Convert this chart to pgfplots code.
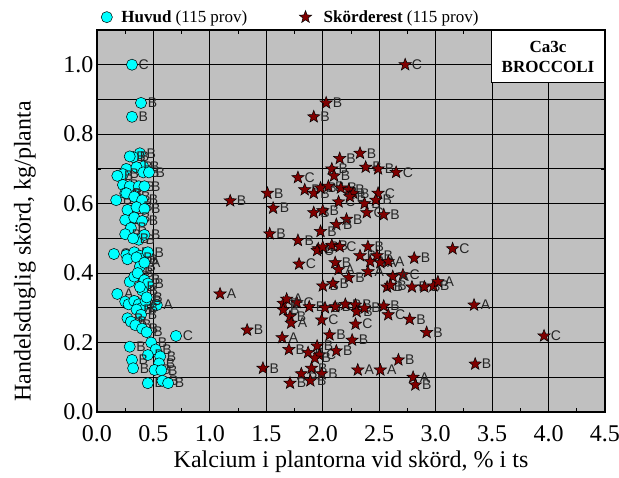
\documentclass[border=0pt]{standalone}
\usepackage{fontspec}
\setmainfont{Liberation Serif}
\newfontfamily\arial{Liberation Sans}
\usepackage{pgfplots}
\pgfplotsset{compat=1.18}
\usepackage{pgfplotstable}
\definecolor{bggray}{RGB}{192,192,192}
\definecolor{starred}{RGB}{128,0,0}
\definecolor{cyanfill}{RGB}{0,255,255}

\pgfdeclareplotmark{fstar}{%
  \pgfpathmoveto{\pgfpointpolar{90}{1*\pgfplotmarksize}}%
  \pgfpathlineto{\pgfpointpolar{126}{0.42*\pgfplotmarksize}}%
  \pgfpathlineto{\pgfpointpolar{162}{1*\pgfplotmarksize}}%
  \pgfpathlineto{\pgfpointpolar{198}{0.42*\pgfplotmarksize}}%
  \pgfpathlineto{\pgfpointpolar{234}{1*\pgfplotmarksize}}%
  \pgfpathlineto{\pgfpointpolar{270}{0.42*\pgfplotmarksize}}%
  \pgfpathlineto{\pgfpointpolar{306}{1*\pgfplotmarksize}}%
  \pgfpathlineto{\pgfpointpolar{342}{0.42*\pgfplotmarksize}}%
  \pgfpathlineto{\pgfpointpolar{18}{1*\pgfplotmarksize}}%
  \pgfpathlineto{\pgfpointpolar{54}{0.42*\pgfplotmarksize}}%
  \pgfpathclose
  \pgfusepathqfillstroke
}

\pgfplotstableread{
x y l
0.31 1.00 C
0.39 0.89 B
0.31 0.85 B
0.38 0.745 B
0.32 0.734 B
0.29 0.736 B
0.41 0.707 B
0.26 0.70 B
0.35 0.705 B
0.41 0.69 B
0.46 0.69 B
0.23 0.685 B
0.18 0.68 B
0.23 0.654 B
0.29 0.65 B
0.37 0.65 B
0.42 0.65 B
0.25 0.63 B
0.17 0.61 B
0.26 0.63 B
0.33 0.62 B
0.40 0.61 B
0.27 0.582 B
0.35 0.59 B
0.42 0.585 B
0.25 0.553 B
0.33 0.56 B
0.40 0.55 B
0.30 0.53 B
0.25 0.512 B
0.37 0.496 B
0.42 0.51 B
0.32 0.50 B
0.15 0.455 C
0.26 0.452 B
0.33 0.46 B
0.38 0.45 A
0.40 0.44 B
0.45 0.46 B
0.27 0.44 B
0.35 0.445 B
0.38 0.419 B
0.42 0.43 A
0.29 0.375 B
0.33 0.39 B
0.36 0.40 B
0.42 0.38 B
0.45 0.37 B
0.40 0.35 B
0.38 0.36 B
0.18 0.34 A
0.25 0.318 B
0.28 0.31 B
0.53 0.308 A
0.33 0.32 B
0.37 0.31 B
0.40 0.30 B
0.43 0.32 B
0.44 0.33 B
0.35 0.295 B
0.39 0.28 B
0.27 0.27 B
0.30 0.26 B
0.34 0.25 B
0.40 0.24 B
0.44 0.23 B
0.70 0.219 C
0.48 0.20 B
0.29 0.188 B
0.52 0.18 B
0.45 0.164 B
0.56 0.16 B
0.31 0.15 B
0.55 0.14 B
0.32 0.126 B
0.51 0.121 B
0.57 0.12 B
0.45 0.083 B
0.58 0.09 B
0.63 0.083 B
}\huvud

\pgfplotstableread{
x y l
2.73 1.00 C
2.03 0.89 B
1.92 0.85 B
2.33 0.745 B
2.15 0.73 B
2.38 0.705 B
2.49 0.70 B
2.65 0.69 C
2.08 0.70 B
2.10 0.68 B
1.78 0.675 C
1.51 0.63 B
1.84 0.64 B
1.92 0.63 B
1.98 0.645 B
2.05 0.65 B
2.16 0.645 B
2.23 0.64 B
2.27 0.63 B
2.49 0.63 C
2.14 0.605 C
2.24 0.62 B
2.37 0.60 B
2.47 0.61 B
1.56 0.587 B
1.18 0.608 B
1.92 0.574 B
2.00 0.58 B
2.39 0.574 C
2.54 0.568 B
2.21 0.555 B
2.12 0.54 B
1.53 0.513 B
1.98 0.52 B
1.78 0.494 B
1.96 0.47 B
1.95 0.465 C
2.00 0.475 B
2.08 0.48 B
2.15 0.476 C
2.40 0.476 B
2.33 0.45 B
2.48 0.45 B
2.81 0.443 B
3.15 0.47 C
1.79 0.426 C
2.11 0.43 B
2.42 0.433 A
2.51 0.43 A
2.58 0.433 A
2.14 0.41 A
2.40 0.404 A
2.71 0.395 C
2.62 0.39 A
2.23 0.387 B
2.00 0.363 B
2.09 0.37 B
2.57 0.36 B
2.60 0.365 B
2.79 0.36 B
2.90 0.36 B
2.98 0.363 B
3.02 0.375 A
1.09 0.34 A
1.65 0.313 B
1.77 0.315 C
1.65 0.294 B
1.68 0.325 A
1.88 0.303 B
2.02 0.30 B
2.11 0.303 B
2.20 0.31 B
2.29 0.308 B
2.30 0.289 B
2.37 0.299 B
2.54 0.305 B
2.58 0.28 C
2.77 0.267 B
3.34 0.308 A
1.71 0.275 B
1.72 0.256 A
1.99 0.265 C
2.29 0.253 C
2.92 0.229 B
3.96 0.219 C
2.06 0.222 B
2.26 0.207 B
1.64 0.214 A
1.33 0.236 B
1.70 0.18 B
1.87 0.171 B
1.95 0.19 B
1.97 0.164 C
2.12 0.176 B
1.93 0.155 B
1.47 0.126 B
1.81 0.11 B
1.90 0.126 B
1.99 0.11 B
1.89 0.09 B
1.71 0.083 B
2.31 0.121 A
2.51 0.121 A
2.67 0.15 B
2.80 0.10 A
2.82 0.078 B
3.35 0.138 B
}\skord

\begin{document}
\begin{tikzpicture}
\path[use as bounding box] (-97pt,-65pt) rectangle (522pt,412pt);
\begin{axis}[
  at={(0pt,0pt)}, anchor=south west,
  scale only axis, width=508pt, height=382pt,
  xmin=0, xmax=4.5, ymin=0, ymax=1.1,
  axis background/.style={fill=bggray},
  xtick={0,0.5,...,4.5}, minor xtick={0.25,0.75,...,4.25},
  ytick={0,0.2,...,1.0}, minor ytick={0.1,0.3,...,1.1},
  xmajorgrids=true, ymajorgrids=true, yminorgrids=true,
  major grid style={black, line width=0.9pt},
  minor grid style={black, line width=0.9pt},
  tick align=inside, major tick length=6pt, minor tick length=4pt,
  tick style={black, line width=0.8pt},
  axis line style={black, line width=1.6pt},
  /pgf/number format/fixed, /pgf/number format/fixed zerofill,
  /pgf/number format/precision=1, /pgf/number format/assume math mode=true,
  tick label style={font=\fontsize{24}{24}\selectfont},
  xticklabel style={yshift=-10pt},
  label style={font=\fontsize{24}{24}\selectfont},
  xlabel={Kalcium i plantorna vid skörd, \% i ts},
  ylabel={Handelsduglig skörd, kg/planta},
  xlabel style={at={(axis description cs:0.5,0)}, anchor=center, yshift=-50pt},
  ylabel style={at={(axis description cs:0,0.42)}, anchor=center, yshift=72pt},
  legend style={draw=none, fill=none, at={(0,1)}, anchor=south west, xshift=4pt, yshift=4pt,
    legend columns=2, font=\fontsize{17}{17}\selectfont, inner sep=0pt,
    /tikz/every even column/.append style={column sep=50pt}},
  legend cell align=left,
  nodes near coords,
  point meta=explicit symbolic,
  every node near coord/.append style={anchor=west, inner sep=0pt, xshift=6.5pt,
     font=\arial\fontsize{14}{14}\selectfont, text=black!85},
]
\addplot[only marks, mark=*, mark size=5.6pt,
  mark options={fill=cyanfill, draw=black, line width=0.5pt}]
  table[x=x, y=y, meta=l]{\huvud};
\addlegendentry{\hspace*{7pt}\textbf{Huvud} (115 prov)}
\addplot[only marks, mark=fstar, mark size=6.5pt,
  mark options={fill=starred, draw=black, line width=0.5pt}]
  table[x=x, y=y, meta=l]{\skord};
\addlegendentry{\hspace*{10pt}\textbf{Skörderest} (115 prov)}
\node[draw=black, line width=1pt, fill=white, anchor=north east,
  minimum width=113pt, minimum height=52pt, align=center,
  font=\bfseries\fontsize{17}{20}\selectfont]
  at (rel axis cs:1,1) {Ca3c\\BROCCOLI};
\end{axis}
\end{tikzpicture}
\end{document}
